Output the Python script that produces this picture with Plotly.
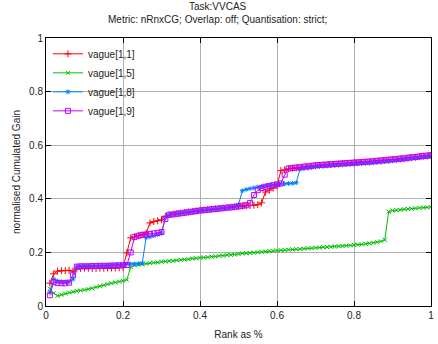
import plotly.graph_objects as go

rank = [round(0.01 * i, 2) for i in range(1, 101)]

vague_1_1 = [
    0.085, 0.12, 0.13, 0.132, 0.132, 0.133, 0.13, 0.138, 0.14, 0.142,
    0.141, 0.14, 0.14, 0.141, 0.141, 0.142, 0.142, 0.142, 0.143, 0.144,
    0.198, 0.254, 0.258, 0.262, 0.266, 0.272, 0.31, 0.315, 0.318, 0.322,
    0.335, 0.341, 0.343, 0.345, 0.347, 0.349, 0.351, 0.353, 0.355, 0.357,
    0.358, 0.36, 0.361, 0.363, 0.364, 0.366, 0.367, 0.369, 0.37, 0.372,
    0.373, 0.374, 0.375, 0.376, 0.378, 0.385, 0.425, 0.432, 0.44, 0.448,
    0.505, 0.508, 0.512, 0.514, 0.515, 0.516, 0.518, 0.519, 0.521, 0.523,
    0.525, 0.526, 0.527, 0.528, 0.529, 0.53, 0.531, 0.532, 0.533, 0.534,
    0.535, 0.536, 0.537, 0.538, 0.539, 0.54, 0.541, 0.543, 0.544, 0.546,
    0.547, 0.549, 0.55, 0.552, 0.553, 0.555, 0.557, 0.559, 0.56, 0.562,
]

vague_1_5 = [
    0.065, 0.048, 0.038, 0.042, 0.046, 0.05, 0.053, 0.056, 0.058, 0.06,
    0.063, 0.066, 0.07, 0.074, 0.078, 0.082, 0.085, 0.088, 0.091, 0.094,
    0.098, 0.145, 0.152, 0.154, 0.156, 0.158, 0.16, 0.162, 0.163, 0.165,
    0.166, 0.168, 0.169, 0.17, 0.172, 0.173, 0.175, 0.177, 0.178, 0.18,
    0.181, 0.182, 0.184, 0.185, 0.187, 0.188, 0.19, 0.191, 0.192, 0.194,
    0.196, 0.197, 0.198, 0.199, 0.2, 0.202, 0.203, 0.205, 0.206, 0.207,
    0.208, 0.209, 0.21, 0.211, 0.212, 0.213, 0.214, 0.215, 0.216, 0.217,
    0.218, 0.219, 0.22, 0.221, 0.222, 0.223, 0.224, 0.225, 0.226, 0.228,
    0.229, 0.23, 0.232, 0.234, 0.236, 0.238, 0.241, 0.247, 0.352, 0.356,
    0.358, 0.359, 0.361, 0.362, 0.363, 0.365, 0.366, 0.367, 0.368, 0.37,
]

vague_1_8 = [
    0.052, 0.1, 0.092, 0.09, 0.09, 0.09, 0.1, 0.148, 0.148, 0.149,
    0.149, 0.15, 0.15, 0.151, 0.151, 0.152, 0.152, 0.153, 0.154, 0.155,
    0.156, 0.157, 0.157, 0.158, 0.16, 0.255, 0.258, 0.262, 0.266, 0.272,
    0.33, 0.34, 0.342, 0.344, 0.346, 0.348, 0.35, 0.352, 0.354, 0.356,
    0.357, 0.359, 0.36, 0.362, 0.363, 0.365, 0.366, 0.368, 0.37, 0.378,
    0.43, 0.435, 0.438, 0.441, 0.444, 0.446, 0.448, 0.45, 0.452, 0.454,
    0.455, 0.456, 0.457, 0.458, 0.46, 0.512, 0.514, 0.516, 0.518, 0.52,
    0.521, 0.522, 0.523, 0.524, 0.525, 0.526, 0.527, 0.528, 0.529, 0.53,
    0.531, 0.532, 0.533, 0.534, 0.535, 0.536, 0.538, 0.539, 0.541, 0.542,
    0.544, 0.545, 0.547, 0.549, 0.551, 0.552, 0.553, 0.555, 0.556, 0.558,
]

vague_1_9 = [
    0.04, 0.09, 0.086, 0.085, 0.085, 0.087, 0.115, 0.147, 0.148, 0.148,
    0.148, 0.149, 0.149, 0.15, 0.15, 0.15, 0.151, 0.151, 0.152, 0.152,
    0.153, 0.2, 0.258, 0.262, 0.265, 0.267, 0.269, 0.271, 0.273, 0.276,
    0.325, 0.34, 0.342, 0.344, 0.346, 0.348, 0.35, 0.352, 0.354, 0.356,
    0.358, 0.359, 0.361, 0.362, 0.364, 0.365, 0.367, 0.368, 0.37, 0.372,
    0.374, 0.376, 0.384, 0.414, 0.432, 0.44, 0.445, 0.448, 0.451, 0.454,
    0.457, 0.49, 0.513, 0.515, 0.517, 0.518, 0.52, 0.521, 0.523, 0.525,
    0.526, 0.527, 0.528, 0.529, 0.53, 0.531, 0.532, 0.533, 0.534, 0.535,
    0.536, 0.537, 0.538, 0.539, 0.54, 0.542, 0.543, 0.544, 0.546, 0.547,
    0.548, 0.55, 0.551, 0.553, 0.555, 0.556, 0.558, 0.56, 0.561, 0.563,
]

series_names = ["vague[1,1]", "vague[1,5]", "vague[1,8]", "vague[1,9]"]
series_values = [vague_1_1, vague_1_5, vague_1_8, vague_1_9]
series_colors = ["#ff0000", "#00c000", "#0080ff", "#c000ff"]
series_symbols = ["cross-thin-open", "x-thin-open", "asterisk-open", "square-open"]
series_sizes = [5, 4, 4, 5]

x_ticks = [0, 0.2, 0.4, 0.6, 0.8, 1]
x_tick_labels = ["0", "0.2", "0.4", "0.6", "0.8", "1"]
y_ticks = [0, 0.2, 0.4, 0.6, 0.8, 1]
y_tick_labels = ["0", "0.2", "0.4", "0.6", "0.8", "1"]

title_line1 = "Task:VVCAS"
title_line2 = "Metric: nRnxCG; Overlap: off; Quantisation: strict;"

fig = go.Figure()
for name, vals, col, sym, sz in zip(series_names, series_values, series_colors,
                                    series_symbols, series_sizes):
    fig.add_trace(go.Scatter(
        x=rank, y=vals, name=name, mode="lines+markers",
        line=dict(color=col, width=1),
        marker=dict(symbol=sym, size=sz, color=col, line=dict(color=col, width=1)),
    ))

font_family = "Liberation Sans, Arial, sans-serif"
fig.update_layout(
    width=438, height=344,
    margin=dict(l=46, r=4, t=38, b=38),
    paper_bgcolor="white", plot_bgcolor="white",
    font=dict(family=font_family, size=10, color="#222"),
    showlegend=True,
    legend=dict(
        x=0.005, y=0.995, xanchor="left", yanchor="top",
        bgcolor="rgba(255,255,255,0)", borderwidth=0,
        font=dict(size=10, color="#222"), tracegroupgap=0,
        itemwidth=30,
    ),
    xaxis=dict(
        range=[0, 1], tickvals=x_ticks, ticktext=x_tick_labels,
        showgrid=True, gridcolor="#b0b0b0", gridwidth=1,
        showline=True, linecolor="black", linewidth=1, mirror="ticks",
        ticks="inside", ticklen=5, tickcolor="black",
        zeroline=False,
        title=dict(text="Rank as %", standoff=10, font=dict(size=10)),
    ),
    yaxis=dict(
        range=[0, 1], tickvals=y_ticks, ticktext=y_tick_labels,
        showgrid=True, gridcolor="#b0b0b0", gridwidth=1,
        showline=True, linecolor="black", linewidth=1, mirror="ticks",
        ticks="inside", ticklen=5, tickcolor="black",
        zeroline=False,
        title=dict(text="normalised Cumulated Gain", standoff=6, font=dict(size=10)),
    ),
    annotations=[
        dict(text=title_line1, xref="paper", yref="paper",
             x=(219 - 46) / 388, y=1 + (38 - 7) / 268,
             xanchor="center", yanchor="middle", showarrow=False,
             font=dict(size=10, color="#222")),
        dict(text=title_line2, xref="paper", yref="paper",
             x=(219 - 46) / 388, y=1 + (38 - 20) / 268,
             xanchor="center", yanchor="middle", showarrow=False,
             font=dict(size=10, color="#222")),
    ],
)

fig.write_html("out.html")
